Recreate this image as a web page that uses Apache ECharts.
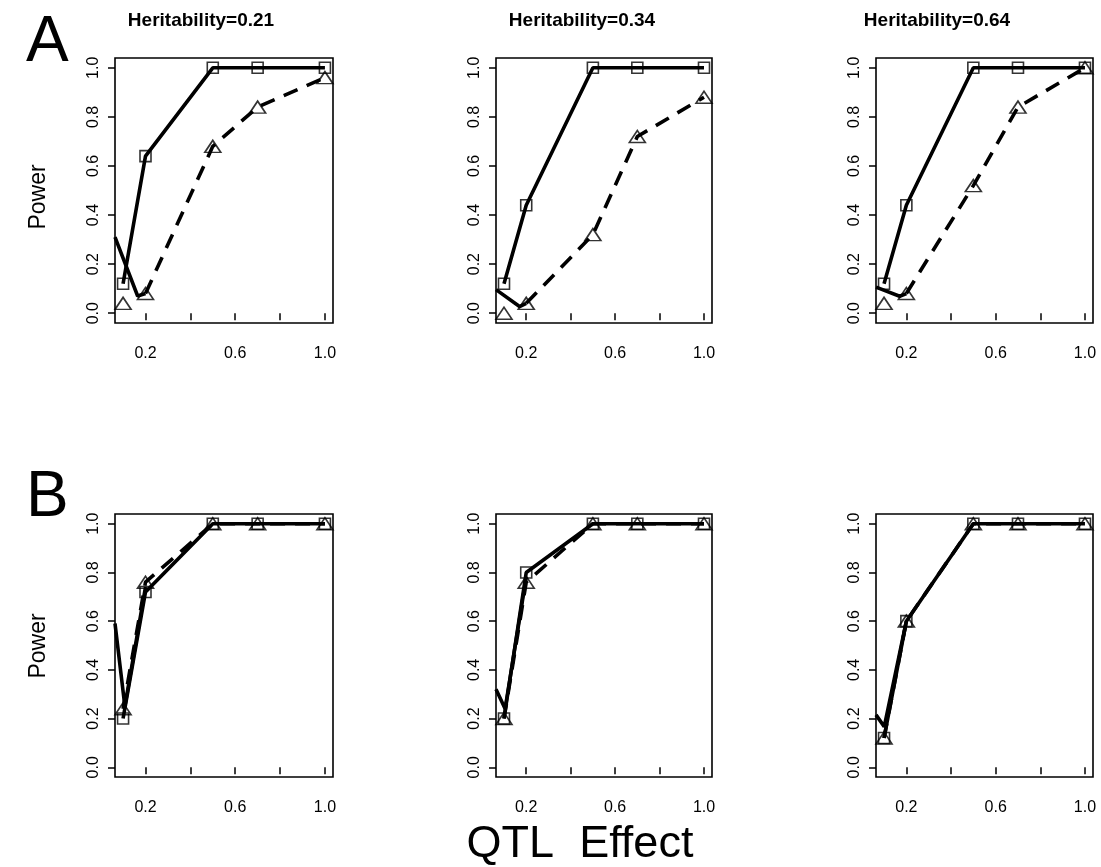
<!DOCTYPE html>
<html>
<head>
<meta charset="utf-8">
<script src="https://cdn.jsdelivr.net/npm/echarts@6/dist/echarts.min.js"></script>
<style>html,body{margin:0;padding:0;background:#fff}#c{width:1101px;height:867px}</style>
</head>
<body>
<div id="c"></div>
<script>
// ---- data ----
const qtlEffect = [0.1, 0.2, 0.5, 0.7, 1.0];
const panelTitles = ['Heritability=0.21', 'Heritability=0.34', 'Heritability=0.64'];
const xTickValues = [0.2, 0.4, 0.6, 0.8, 1.0];
const xLabelValues = [0.2, 0.6, 1.0];
const yTickValues = [0.0, 0.2, 0.4, 0.6, 0.8, 1.0];
// squares (solid line) per panel: A1, A2, A3, B1, B2, B3
const squaresA1 = [0.12, 0.64, 1.0, 1.0, 1.0];
const squaresA2 = [0.12, 0.44, 1.0, 1.0, 1.0];
const squaresA3 = [0.12, 0.44, 1.0, 1.0, 1.0];
const squaresB1 = [0.20, 0.72, 1.0, 1.0, 1.0];
const squaresB2 = [0.20, 0.80, 1.0, 1.0, 1.0];
const squaresB3 = [0.12, 0.60, 1.0, 1.0, 1.0];
// triangles (dashed line)
const trianglesA1 = [0.04, 0.08, 0.68, 0.84, 0.96];
const trianglesA2 = [0.00, 0.04, 0.32, 0.72, 0.88];
const trianglesA3 = [0.04, 0.08, 0.52, 0.84, 1.0];
const trianglesB1 = [0.24, 0.76, 1.0, 1.0, 1.0];
const trianglesB2 = [0.20, 0.76, 1.0, 1.0, 1.0];
const trianglesB3 = [0.12, 0.60, 1.0, 1.0, 1.0];
// first point index the dashed line is drawn from
const dashStart = [1, 1, 1, 0, 0, 0];
// extra solid segment entering from the left edge [x, y]
const extraA1 = [[0.064, 0.31], [0.165, 0.07], [0.2, 0.08]];
const extraA2 = [[0.064, 0.096], [0.17, 0.027], [0.2, 0.04]];
const extraA3 = [[0.064, 0.106], [0.17, 0.069], [0.2, 0.08]];
const extraB1 = [[0.064, 0.59], [0.108, 0.25], [0.2, 0.74]];
const extraB2 = [[0.064, 0.32], [0.105, 0.24], [0.2, 0.78]];
const extraB3 = [[0.064, 0.215], [0.101, 0.167], [0.2, 0.6]];

const squares = [squaresA1, squaresA2, squaresA3, squaresB1, squaresB2, squaresB3];
const triangles = [trianglesA1, trianglesA2, trianglesA3, trianglesB1, trianglesB2, trianglesB3];
const extras = [extraA1, extraA2, extraA3, extraB1, extraB2, extraB3];

// ---- layout ----
const colLeft = [115, 496, 876];
const colWidth = [218, 216, 217];
const rowTop = [58, 514];
const rowHeight = [265, 263];
const titleCenter = [196, 577, 932];
const FONT = 'Liberation Sans, Arial, sans-serif';
const LW = 3.6;

const grids = [], xAxes = [], yAxes = [], series = [];
for (let p = 0; p < 6; p++) {
  const r = Math.floor(p / 3), c = p % 3;
  grids.push({left: colLeft[c], top: rowTop[r], width: colWidth[c], height: rowHeight[r],
    show: true, borderColor: '#000', borderWidth: 1.6, backgroundColor: 'transparent', containLabel: false});
  xAxes.push({type: 'value', gridIndex: p, min: 0.064, max: 1.036,
    axisLine: {show: false}, splitLine: {show: false},
    axisTick: {show: true, customValues: xTickValues, length: 7, inside: false, lineStyle: {color: '#000', width: 1.5}},
    axisLabel: {show: true, customValues: xLabelValues, formatter: v => v.toFixed(1), color: '#000',
      fontSize: 16, fontFamily: FONT, margin: 23}});
  yAxes.push({type: 'value', gridIndex: p, min: -0.04, max: 1.04,
    axisLine: {show: false}, splitLine: {show: false},
    axisTick: {show: true, customValues: yTickValues, length: 7, inside: false, lineStyle: {color: '#000', width: 1.5}},
    axisLabel: {show: true, customValues: yTickValues, formatter: v => v.toFixed(1), color: '#000',
      fontSize: 16, fontFamily: FONT, rotate: 90, margin: 13}});
  const sq = qtlEffect.map((x, i) => [x, squares[p][i]]);
  const tr = qtlEffect.map((x, i) => [x, triangles[p][i]]);
  series.push({type: 'line', xAxisIndex: p, yAxisIndex: p, data: extras[p], symbol: 'none', clip: true,
    lineStyle: {color: '#000', width: LW}, silent: true, animation: false, z: 2});
  series.push({type: 'line', xAxisIndex: p, yAxisIndex: p, data: tr.slice(dashStart[p]), symbol: 'none', clip: true,
    lineStyle: {color: '#000', width: LW, type: [15, 10]}, silent: true, animation: false, z: 2});
  series.push({type: 'line', xAxisIndex: p, yAxisIndex: p, data: sq, symbol: 'none', clip: true,
    lineStyle: {color: '#000', width: LW}, silent: true, animation: false, z: 3});
  series.push({type: 'scatter', xAxisIndex: p, yAxisIndex: p, data: sq, symbol: 'rect', symbolSize: 11,
    itemStyle: {color: 'rgba(0,0,0,0)', borderColor: '#000', borderWidth: 1.6}, animation: false, z: 4});
  series.push({type: 'scatter', xAxisIndex: p, yAxisIndex: p, data: tr, symbol: 'triangle', symbolSize: [16, 12],
    itemStyle: {color: 'rgba(0,0,0,0)', borderColor: '#000', borderWidth: 1.6}, animation: false, z: 4});
}

const titles = panelTitles.map((t, c) => ({text: t, left: titleCenter[c], top: 6,
  textAlign: 'center', textStyle: {fontSize: 19, fontWeight: 'bold', fontFamily: FONT, color: '#000'}}));

const chart = echarts.init(document.getElementById('c'), null, {renderer: 'canvas'});
chart.setOption({
  animation: false,
  backgroundColor: '#fff',
  title: titles,
  grid: grids, xAxis: xAxes, yAxis: yAxes, series: series,
  graphic: [
    {type: 'text', left: 26, top: 11, style: {text: 'A', fontSize: 64, fontFamily: FONT, fill: '#000'}},
    {type: 'text', left: 26, top: 466, style: {text: 'B', fontSize: 64, fontFamily: FONT, fill: '#000'}},
    {type: 'text', x: 39, y: 197, rotation: Math.PI / 2,
      style: {text: 'Power', fontSize: 23, fontFamily: FONT, fill: '#000', align: 'center', verticalAlign: 'middle'}},
    {type: 'text', x: 39, y: 646, rotation: Math.PI / 2,
      style: {text: 'Power', fontSize: 23, fontFamily: FONT, fill: '#000', align: 'center', verticalAlign: 'middle'}},
    {type: 'text', x: 580, y: 845,
      style: {text: 'QTL  Effect', fontSize: 45, fontFamily: FONT, fill: '#000', align: 'center', verticalAlign: 'middle'}}
  ]
});
</script>
</body>
</html>
